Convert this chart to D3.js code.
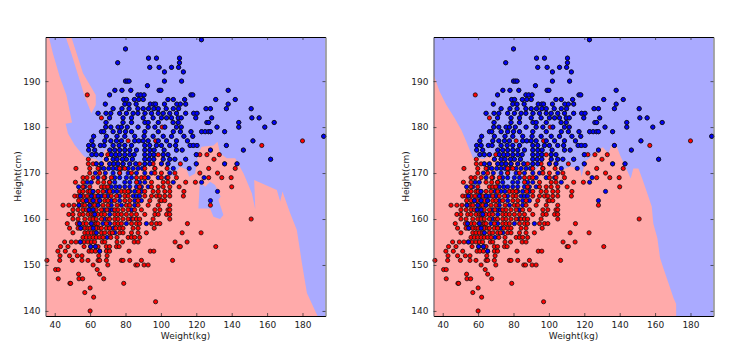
<!DOCTYPE html>
<html>
<head>
<meta charset="utf-8">
<script src="https://cdn.jsdelivr.net/npm/d3@7"></script>
<style>
html, body { margin: 0; padding: 0; background: #fff; }
text { font-family: "DejaVu Sans", sans-serif; }
</style>
</head>
<body>
<div id="chart"></div>
<script>
// [height, weights...] per row, heights in the source are whole cm
const blueRows = [
  [199,122.9],[197,80],[195,93,97.5,110.5],[194,75.6,110.5],[193,93.7,99,106,110],[192,102,112.7],
  [190,80,81,82,102,111.7],[189,92.4],[188,74,78,83,99,100,138],[187,71,87,88.6,90.5,117,118],
  [186,79,80.6,85,87.5,90,104,107,113.4,131,142],[185,68.6,79.6,82,86,94,96,97,102,109,111,114,138],
  [184,73,78,82,87,90,93,96,98.5,103,107,110,125.5,128,137,151],
  [183,64.5,69,71.7,76.7,80.5,84.3,87,91,94.7,98.5,101.3,105,108.8,114,118.5,120.4],
  [182,71,78.6,83.4,90,95.6,100.3,103.2,106,109.8,111.5,119.7,128.7,151.4,155.5],
  [181,69,78.6,83.4,91,92.8,98.5,106.9,109.8,126,127,144,164],
  [180,68.8,71.7,75.8,77.7,81,87.1,92.8,96.6,102.2,108.8,111.5,131.7,144,158.7],
  [179,66.4,67.7,73,76.7,80,83.4,90.9,98.5,107,111,117,123,125,127,128,136],
  [178,62,69.2,75.2,79.6,85.2,90.5,95.6,101.3,106,113,118,192],
  [177,61,68.3,71.7,74.9,77.7,85.2,87.5,90,92.8,98.5,103.2,108.8,115,152],
  [176,59.2,61.7,65.8,67.9,73,76.4,79.6,83.4,90.9,93.7,97.5,100.3,105,108.3,116.5,118.3,120.4,137],
  [175,59.2,62.6,71.1,73.9,76.7,79.6,82.4,86.2,90.9,93.7,96.2,101.8,108.8,112,128,146.6],
  [174,61,63.5,66.4,72,74.5,76.7,79.6,82.4,84.9,90.9,93.7,96,101.3,104,120],
  [173,69.2,73,75.2,78.3,80.5,83.9,90.9,93.4,96,101.3,105,107.9,114,162],
  [172,63.5,66.4,71.1,73.4,75.8,78.6,82.4,85.8,90.9,93.7,100.3,104,120,136,143],
  [171,65.4,67.7,70.5,73,75.2,77.7,81.5,84.3,87.1,89.6,96.6,107,116],
  [170,63,68.6,73,76.7,81.5,86.2,90.9,94.7,105],
  [169,64.5,68.3,73.9,76.7,80.5,83.4,92.8,98.5,103.2,124.4],
  [168,58.3,60.7,71,73.9,79.6,82.4,88,90.9,107,123],
  [167,53.5,57,72,74.5,76.7,79.6,82.4,86.2,89,92.8],
  [166,61.6,69.6,73,75.2,82.4,85.2,89,132],
  [165,54.5,60.7,64.5,66.4,70.1,76.7,84.3,86.2,88],
  [164,57.9,61.7,65.4,72,76.7,85.2,89,128],
  [163,53.7,59.8,64.5,72,77.7,85.2],[162,59.4,61.7,68.3,71.1,72.6,83.4],[161,62.6,71.1],[160,68.3,83],
  [159,54,60.7,67.3,71.1,80.5,91.8],[158,54.7,61.7,73],[157,63.5,74],[156,69.6],[155,54.5],[154,60.3,63],[153,65.4]
];
const redRows = [
  [187,58.4],[182,66.4],[180,100.7],[177,81.5,97,180],[176,157],[174,70,98.5,122,126,133],[173,59,130],
  [172,59,61.7,78.6,88,95.6,111],[171,52,59.8,64.5,76.7,79.6,90.9,96.6,103.5,127,142],
  [170,59.8,65.4,76.7,83.4,96.6,100.3,107.9,122,132],
  [169,56,58.3,61.7,67.7,72,86.2,89,90.9,100.3,104,108.8,127,134.4,139.7],
  [168,51.7,56,64.5,67.7,71,86.2,94.7,101.3,104,114,119.5],
  [167,56,59.8,66.4,68.3,70,88,94.7,98.5,101.3,105,110.3,140],
  [166,54,56,58.8,60,64.5,67.3,71,77.7,79.6,81.5,87.5,90.9,95.6,98.5,102.2,105,113],
  [165,51.3,53.2,56,58.3,62.6,68.3,72,74.9,79.6,81.5,90.9,94.7,97.5,99.4,102.2,105,112.7],
  [164,53.5,56,59.4,63.5,68.3,70.1,73.9,79.6,82.4,87.1,93.7,99.4,100.3,102.2],
  [163,44.7,48,50.9,55.4,57,61,62.6,67.3,70.1,75.2,80.5,82.4,87.1,92.8,98.5,105,128],
  [162,50.3,53.2,56,57.9,63.5,66.4,69.5,73.9,75.8,78.6,81.5,85.2,89,96.6,99.4,104,105],
  [161,48,50.3,54.1,56,58.8,60.7,61.7,64.5,66.4,68.3,73.9,75.8,77.7,80.5,83.4,86.2,90.9,96.6,98.5,103.2,105],
  [160,50.3,53.2,57,59.8,61.7,63.5,66.4,70,71,73.9,75.8,78.6,81.5,84.3,86.2,88,95.6,105,151],
  [159,47.1,52.8,56,57.9,62.6,63.5,64.5,69.2,73.9,75.8,77.7,83.4,86.2,88,94.7,97.5,99.4,115],
  [158,48.4,53.2,57,58.8,60,63.5,65.4,66.4,69.2,71,74.5,76.7,78.6,84.3,87.1,96.2],
  [157,50.3,57,58.8,60.7,62.6,66.4,68.3,71,72.6,76.7,78.6,83.4,87.1,91.8,112,122.7],
  [156,56,57.9,59.8,61.7,63.5,65.4,67.3,71.7,75.2,81.5,83.4,85.2,88],
  [155,45.6,49.4,52,56.6,58.8,60.7,62.6,66.9,68.3,75.2,78.3,84.9,87.1,108,114.8],
  [154,43.3,47.5,56.6,64.5,69.2,71,74.9,76.4,110.3,111,131],
  [153,41.8,46,51.3,59.4,61,63,69.2,71,82,94,96],
  [152,43,48.4,52.8,55.4,64.9,69.6],
  [151,35.6,42.8,50,55.4,58.8,64.5,65.4,69.2,77.7,78.6,82.4,89,106.6],
  [150,61.7,70,85.8,86.8,90.5,92.8],[149,40.5,42,64],[148,53.5,65.4],[147,42,53.7,55.8,67.7],
  [146,48.6,49,79],[145,60],[144,57],[143,62],[142,97],[140,60]
];

// decision regions traced as [weight, height]
const leftRed = [[35,199.6],[36.7,199.6],[39,196],[42.8,191],[46.6,187],[49.8,181],[46.2,180.7],[47.5,178.6],[51.3,176.1],[56,173.9],
  [57,173.5],[63.5,173],[66.4,172],[68.3,175],[71,175.4],[71,173.5],[73,172],[75,176],[76.5,173],[78.6,171.7],[82.4,170.6],[86,172],[90,170.3],
  [94.7,172.5],[98.5,174.3],[101.3,173.2],[103.5,170.3],[107,169.2],[110.7,171.4],[114.6,170.7],[116,169.2],[119.3,169.9],[121.2,174.3],
  [123,175.7],[129.7,176],[132,176.8],[133.4,174.3],[137.2,173.2],[142,173.2],[146.7,169.9],[151.4,165.6],[153.3,162.1],[152.7,168.5],
  [165.5,166.3],[167.4,163.8],[168.7,166],[173,161.3],[176.8,157.6],[179.7,150.4],[182.5,143.9],[188.5,138.9],[35,138.9]];
const leftRedStrip = [[46.2,199.6],[49.4,199.6],[56,191.7],[63.2,187],[63.2,184.8],[60.7,183],[57,186.6],[49.4,196]];
const leftBlueIslands = [
  [[122,168.1],[121.2,162.3],[127.8,162.3],[129.7,160.5],[133.4,160],[135.3,160.9],[132.5,164.2],[133.8,164.9],[130.6,167.4],[127.8,168.1],[125,167]],
  [[58,167.8],[58.5,165.2],[61.6,165.4],[61,168.5]],
  [[73,168.5],[73.5,165.2],[75.2,165.4],[76,168.5]],
  [[70,171],[72,167],[88,167],[88,168.5],[84,170],[78,170.5]]
];
const rightRed = [[35,138.9],[35,191.3],[38.3,187.7],[42.1,184.8],[46.8,181.9],[50.6,179.3],[53.4,176.8],[57.2,173.2],[59,173.5],[62.9,173],
  [66.6,173.9],[72.3,172.8],[76,176],[78.9,173.2],[83.6,172.5],[87.4,171.4],[92,170.3],[96.8,172.5],[99.6,174.6],[102.5,172.5],[105.3,171.4],
  [108,170.7],[112,171.4],[117.6,171],[118.5,169.2],[120.4,172.5],[124.2,173.6],[126,174.6],[130.4,175.6],[133.6,174.3],[135.5,176.1],
  [137.4,176.8],[140.2,173.9],[144,170.7],[146.2,168.8],[147.7,171],[150.6,171],[153,168.5],[156.2,164.9],[158.1,162.7],[159,159],
  [161.3,155.8],[162.8,151.5],[164.7,149.3],[167.6,146],[170.4,142.8],[171.9,141.5],[171.9,138.9]];
const rightBlueIslands = [
  [[58,167.8],[58.5,165.2],[61.6,165.4],[61,168.5]],
  [[70,171],[72,167],[88,167],[88,168.5],[84,170],[78,170.5]]
];

const xTicks = [40, 60, 80, 100, 120, 140, 160, 180];
const yTicks = [140, 150, 160, 170, 180, 190];

const bluePoints = blueRows.flatMap(r => r.slice(1).map(w => [w, r[0]]));
const redPoints = redRows.flatMap(r => r.slice(1).map(w => [w, r[0]]));

const totalW = 749, totalH = 361;
const plotW = 280, plotH = 279;

const svg = d3.select("#chart").append("svg")
    .attr("width", totalW)
    .attr("height", totalH)
    .style("display", "block");

const x = d3.scaleLinear().domain([34.8, 193]).range([0, plotW]);
const y = d3.scaleLinear().domain([138.9, 199.6]).range([plotH, 0]);
const ring = d3.line().x(d => x(d[0])).y(d => y(d[1]));

function drawPanel(left, top, redRings, blueRings, idx) {
    const g = svg.append("g").attr("transform", `translate(${left},${top})`);

    const clipId = "clip" + idx;
    g.append("clipPath").attr("id", clipId)
        .append("rect").attr("width", plotW).attr("height", plotH);

    const body = g.append("g").attr("clip-path", `url(#${clipId})`);
    body.append("rect").attr("width", plotW).attr("height", plotH).attr("fill", "#aaaaff");
    body.selectAll(".red-region").data(redRings).enter().append("path")
        .attr("d", d => ring(d) + "Z").attr("fill", "#ffaaaa");
    body.selectAll(".blue-region").data(blueRings).enter().append("path")
        .attr("d", d => ring(d) + "Z").attr("fill", "#aaaaff");

    g.selectAll(".pt-blue").data(bluePoints).enter().append("circle")
        .attr("cx", d => x(d[0])).attr("cy", d => y(d[1])).attr("r", 2.1)
        .attr("fill", "#0000ff").attr("stroke", "#111").attr("stroke-width", 0.8);
    g.selectAll(".pt-red").data(redPoints).enter().append("circle")
        .attr("cx", d => x(d[0])).attr("cy", d => y(d[1])).attr("r", 2.1)
        .attr("fill", "#ff0000").attr("stroke", "#111").attr("stroke-width", 0.8);
    // the blues that show through the dense lower part sit on top there
    g.selectAll(".pt-blue-top").data(bluePoints.filter(d => d[1] >= 172 || d[0] < 66 && d[1] < 167)).enter().append("circle")
        .attr("cx", d => x(d[0])).attr("cy", d => y(d[1])).attr("r", 2.1)
        .attr("fill", "#0000ff").attr("stroke", "#111").attr("stroke-width", 0.8);

    // ticks point inwards on all four sides
    const styleAxis = (a, spine) => {
        a.select(".domain").attr("stroke", spine).attr("stroke-width", 1);
        a.selectAll("line").attr("stroke", "#222").attr("stroke-width", 0.7);
        a.selectAll("text").attr("font-size", 9).attr("fill", "#222").attr("font-family", '"DejaVu Sans", sans-serif');
    };
    g.append("g").attr("transform", `translate(0,${plotH})`)
        .call(d3.axisBottom(x).tickValues(xTicks).tickSizeInner(-3).tickSizeOuter(0).tickPadding(6)).call(styleAxis, "#000");
    g.append("g")
        .call(d3.axisLeft(y).tickValues(yTicks).tickSizeInner(-3).tickSizeOuter(0).tickPadding(5)).call(styleAxis, "#555");
    g.append("g")
        .call(d3.axisTop(x).tickValues(xTicks).tickSizeInner(-3).tickSizeOuter(0).tickFormat("")).call(styleAxis, "#000");
    g.append("g").attr("transform", `translate(${plotW},0)`)
        .call(d3.axisRight(y).tickValues(yTicks).tickSizeInner(-3).tickSizeOuter(0).tickFormat("")).call(styleAxis, "#555");

    g.append("text")
        .attr("x", plotW / 2).attr("y", plotH + 23)
        .attr("text-anchor", "middle").attr("font-size", 9).attr("fill", "#222")
        .text("Weight(kg)");
    g.append("text")
        .attr("transform", `translate(-25,${plotH / 2}) rotate(-90)`)
        .attr("text-anchor", "middle").attr("font-size", 9).attr("fill", "#222")
        .text("Height(cm)");
}

drawPanel(45.5, 37, [leftRed, leftRedStrip], leftBlueIslands, 0);
drawPanel(433.5, 37, [rightRed], rightBlueIslands, 1);
</script>
</body>
</html>
